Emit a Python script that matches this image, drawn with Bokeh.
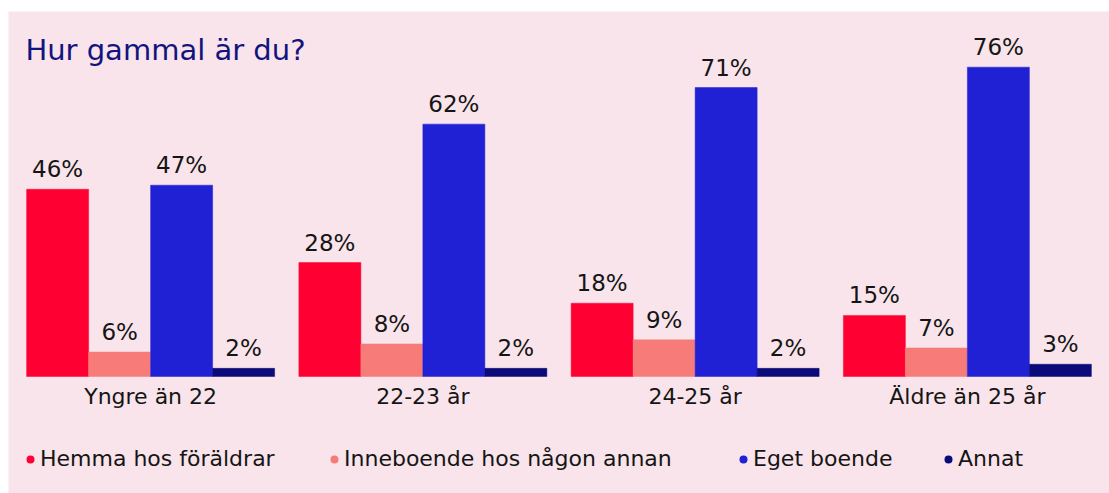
from bokeh.plotting import figure
from bokeh.models import (ColumnDataSource, FactorRange, Range1d, Label, Legend,
                          LegendItem)
from bokeh.transform import dodge
from bokeh.embed import file_html
from bokeh.resources import INLINE

# ---- data ----
categories = ["Yngre än 22", "22-23 år", "24-25 år", "Äldre än 25 år"]
series_names = ["Hemma hos föräldrar", "Inneboende hos någon annan", "Eget boende", "Annat"]
hemma = [46, 28, 18, 15]
inneboende = [6, 8, 9, 7]
eget = [47, 62, 71, 76]
annat = [2, 2, 2, 3]
title_text = "Hur gammal är du?"

colors = ["#ff0033", "#f77b78", "#2020d5", "#0a0a7a"]
BG = "#f8e4ea"
FONT = "DejaVu Sans"

series = [hemma, inneboende, eget, annat]
data = dict(cat=categories, zero=[0] * len(categories))
for i, s in enumerate(series):
    data[f"s{i}"] = s
    data[f"l{i}"] = [f"{v}%" for v in s]
source = ColumnDataSource(data)

W, H = 1109, 493
p = figure(width=W, height=H, output_backend="svg", toolbar_location=None,
           x_range=FactorRange(factors=categories, range_padding=0.022,
                               range_padding_units="absolute"),
           y_range=Range1d(-28.75, 89.68),
           x_axis_location=None, y_axis_location=None,
           min_border_left=8, min_border_right=0, min_border_top=11,
           min_border_bottom=0)
p.background_fill_color = BG
p.border_fill_color = "white"
p.outline_line_color = None
p.xgrid.grid_line_color = None
p.ygrid.grid_line_color = None

bw = 0.2277
offsets = [-1.5 * bw, -0.5 * bw, 0.5 * bw, 1.5 * bw]
for i in range(4):
    x = dodge("cat", offsets[i], range=p.x_range)
    p.vbar(x=x, top=f"s{i}", width=bw, source=source,
           fill_color=colors[i], line_color=colors[i], line_width=0.5)
    p.text(x=x, y=f"s{i}", text=f"l{i}", source=source,
           text_align="center", text_baseline="middle", y_offset=-20,
           text_font_size="23px", text_color="#151515",
           text_font={"value": FONT})

# category labels under each group
p.text(x="cat", y="zero", text="cat", source=source,
       text_align="center", text_baseline="middle", y_offset=20,
       text_font_size="22px", text_color="#151515",
       text_font={"value": FONT})

# title
p.add_layout(Label(x=0.040, y=80.1, text=title_text, text_font_size="29px",
                   text_font=FONT, text_color="#13137f",
                   text_baseline="middle"))

# legends (one per series, positioned below the bars)
leg_x = [12, 316, 725, 930]
for i in range(4):
    x = dodge("cat", offsets[i], range=p.x_range)
    r = p.scatter(x=x, y=f"s{i}", source=source, size=0, marker="circle",
                  fill_color=colors[i], line_color=colors[i], line_width=0)
    lg = Legend(items=[LegendItem(label=series_names[i], renderers=[r])],
                location=(leg_x[i], 22), orientation="horizontal",
                glyph_width=20, glyph_height=20, label_standoff=0,
                padding=0, margin=0, border_line_color=None,
                background_fill_alpha=0, label_text_font_size="22px",
                label_text_font=FONT, label_text_color="#151515")
    p.add_layout(lg)

open("out.html", "w").write(file_html(p, INLINE))
